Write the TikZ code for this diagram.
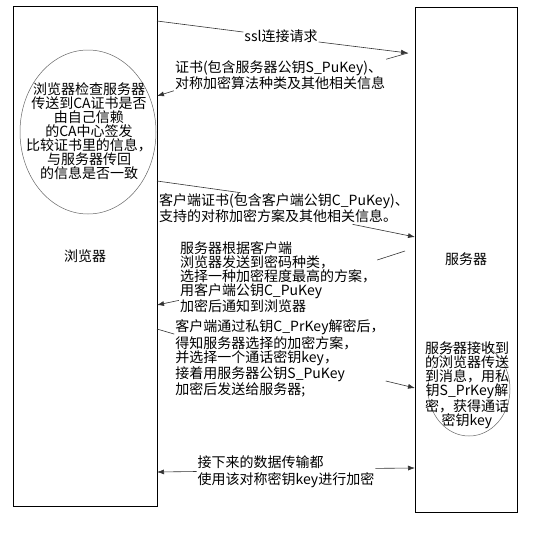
\documentclass[tikz,border=0pt]{standalone}
\usepackage{fontspec}
\setmainfont{Noto Sans CJK SC}
\usetikzlibrary{shapes.geometric}
\usetikzlibrary{arrows.meta}
\tikzset{
    party/.style = {rectangle, draw=black, line width=0.8pt, align=center, font=\fontsize{14}{14}\selectfont},
    bubble/.style = {ellipse, draw=black!60, line width=0.5pt, inner sep=0pt},
    msg/.style = {align=left, inner sep=1pt, font=\fontsize{14}{14}\selectfont},
    memo/.style = {align=center, inner sep=1pt, font=\fontsize{14}{14}\selectfont},
    edgel/.style = {line width=0.6pt, black!80},
    edgea/.style = {-{Latex[length=7pt,width=5pt]}, line width=0.6pt, black!80},
}

\begin{document}
\begin{tikzpicture}[x=1pt, y=-1pt]
  \useasboundingbox (0,0) rectangle (557,533);
  % the two parties
  \node[party, minimum width=144pt, minimum height=500pt] (browser) at (85,256) {浏览器};
  \node[party, minimum width=102pt, minimum height=505pt] (server) at (466,259.5) {服务器};

  % checks done on each side
  \node[bubble, minimum width=136pt, minimum height=164pt] (check) at (88,132) {};
  \node[memo] (checktxt) at (89,131.5) {浏览器检查服务器\\传送到CA证书是否\\由自己信赖\\的CA中心签发\\比较证书里的信息，\\与服务器传回\\的信息是否一致};
  \node[bubble, minimum width=82pt, minimum height=94pt] (decode) at (469,389) {};
  \node[memo] (decodetxt) at (467,385) {服务器接收到\\的浏览器传送\\到消息，用私\\钥S\_PrKey解\\密，获得通话\\密钥key};

  % messages
  \node[msg] (ssl) at (281,36) {ssl连接请求};
  \node[msg] (cert) at (280,75) {证书(包含服务器公钥S\_PuKey)、\\对称加密算法种类及其他相关信息};
  \node[msg] (ccert) at (284,208.5) {客户端证书(包含客户端公钥C\_PuKey)、\\支持的对称加密方案及其他相关信息。};
  \node[msg] (choose) at (278,277.5) {服务器根据客户端\\浏览器发送到密码种类，\\选择一种加密程度最高的方案，\\用客户端公钥C\_PuKey\\加密后通知到浏览器};
  \node[msg] (dec) at (280,358.5) {客户端通过私钥C\_PrKey解密后，\\得知服务器选择的加密方案，\\并选择一个通话密钥key，\\接着用服务器公钥S\_PuKey\\加密后发送给服务器;};
  \node[msg, font=\fontsize{14}{17}\selectfont] (data) at (286,471.5) {接下来的数据传输都\\使用该对称密钥key进行加密};

  % ends on the box edges
  \coordinate (b1) at (157,21);
  \coordinate (s1) at (408,53);
  \coordinate (b2) at (157,96);
  \coordinate (b3) at (157,181);
  \coordinate (s3) at (415,237);
  \coordinate (s4) at (405,251);
  \coordinate (b4) at (157,305);
  \coordinate (b5) at (157,329);
  \coordinate (s5) at (415,388);
  \coordinate (b6) at (157,472);
  \coordinate (s6) at (415,468);

  \draw[edgel] (b1) -- (ssl.174);
  \draw[edgea] (ssl.-9) -- (s1);
  \draw[edgel] (s1) -- (cert.north east);
  \draw[edgea] (cert.south west) -- (b2);
  \draw[edgel] (b3) -- (ccert.160);
  \draw[edgea] (ccert.-13) -- (s3);
  \draw[edgel] (s4) -- (choose.10);
  \draw[edgea] (choose.193) -- (b4);
  \draw[edgel] (b5) -- (dec.167);
  \draw[edgea] (dec.-12) -- (s5);
  \draw[edgea] (data.west) -- (b6);
  \draw[edgea] (data.2) -- (s6);
\end{tikzpicture}
\end{document}
